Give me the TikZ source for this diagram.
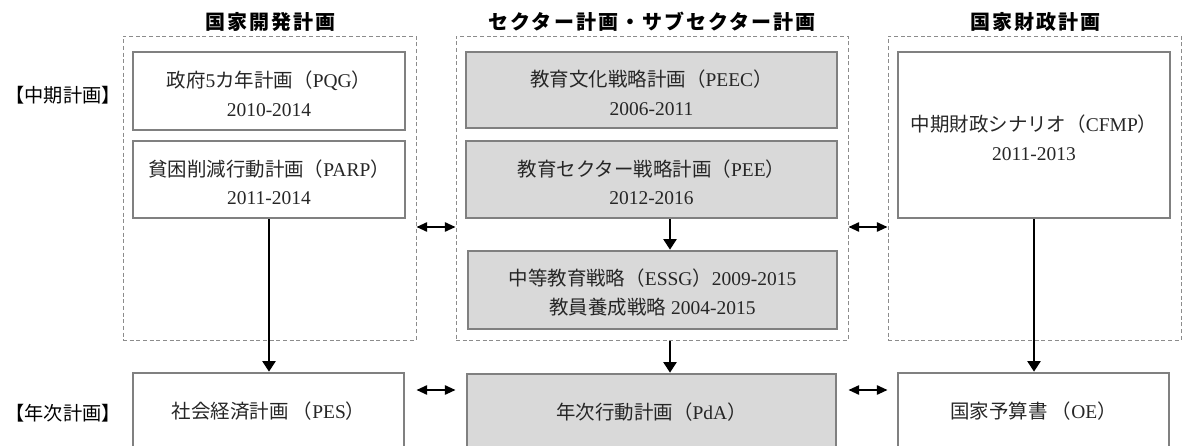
\documentclass[tikz,border=0pt]{standalone}
\usepackage{fontspec}
\setmainfont{Liberation Serif}
\newfontfamily\jp{Noto Sans CJK JP}
\newfontfamily\jphead{Noto Sans CJK JP}[LetterSpace=10]
\usetikzlibrary{arrows.meta,fit}
\newcommand{\J}[1]{{\jp #1}}
\definecolor{boxline}{HTML}{808080}
\definecolor{boxfill}{HTML}{D9D9D9}
\definecolor{grpline}{HTML}{8C8C8C}
\tikzset{
	plan/.style={draw=boxline, line width=2pt, inner sep=0pt},
	sector/.style={plan, fill=boxfill},
	txt/.style={align=center, text=black!85, font=\fontsize{14.6}{21.4}\selectfont},
	two/.style={txt, yshift=-1.9pt},
	one/.style={txt, yshift=1.3pt},
	grp/.style={draw=grpline, dash pattern=on 3pt off 2pt, line width=0.75pt, inner sep=0pt},
	head/.style={font=\jphead\bfseries\fontsize{15}{18}\selectfont},
	term/.style={font=\jp\fontsize{14.4}{17}\selectfont},
	flow/.style={-{Triangle[length=8pt,width=10pt]}, line width=1.3pt},
	link/.style={{Triangle[length=8pt,width=7pt]}-{Triangle[length=8pt,width=7pt]}, line width=1.3pt}
}
\begin{document}
\begin{tikzpicture}[x=0.75pt, y=-0.75pt]
					\useasboundingbox (0,0) rectangle (1182,446);
					\clip (0,0) rectangle (1182,446);
					% dashed frames of the three planning levels
					\node[grp, fit={(123,36) (416,340)}] (dev) {};
					\node[grp, fit={(456,36) (848,340)}] (sec) {};
					\node[grp, fit={(888,36) (1181,340)}] (fin) {};
					% headings
					\node[head] (devhead) at (270,22) {国家開発計画};
					\node[head] (sechead) at (652,22) {セクター計画・サブセクター計画};
					\node[head] (finhead) at (1035,22) {国家財政計画};
					% row labels
					\node[term] (midterm) at (63,95)  {【中期計画】};
					\node[term] (annual)  at (63,413) {【年次計画】};
					% medium term plans
					\node[plan, fit={(133,52) (405,130)}, label={[two]center:{\J{政府}5\J{カ年計画（}PQG\J{）}\\2010-2014}}] (pqg) {};
					\node[plan, fit={(133,141) (405,218)}, label={[two]center:{\J{貧困削減行動計画（}PARP\J{）}\\2011-2014}}] (parp) {};
					\node[sector, fit={(466,52) (837,128)}, label={[two]center:{\J{教育文化戦略計画（}PEEC\J{）}\\2006-2011}}] (peec) {};
					\node[sector, fit={(466,141) (837,218)}, label={[two]center:{\J{教育セクター戦略計画（}PEE\J{）}\\2012-2016}}] (pee) {};
					\node[sector, fit={(468,251) (837,329)}, label={[two]center:{\J{中等教育戦略（}ESSG\J{）}2009-2015\\\J{教員養成戦略} 2004-2015}}] (essg) {};
					\node[plan, fit={(898,52) (1170,218)}, label={[two]center:{\J{中期財政シナリオ（}CFMP\J{）}\\2011-2013}}] (cfmp) {};
					% annual plans
					\node[plan, fit={(133,373) (404,453)}, label={[one]center:{\J{社会経済計画 （}PES\J{）}}}] (pes) {};
					\node[sector, fit={(467,374) (836,453)}, label={[one]center:{\J{年次行動計画（}PdA\J{）}}}] (pda) {};
					\node[plan, fit={(898,373) (1169,453)}, label={[one]center:{\J{国家予算書 （}OE\J{）}}}] (oe) {};
					% vertical arrows
					\coordinate (ax) at (670,0);
					\draw[flow] (parp.south) -- (parp.south |- pes.north);
					\draw[flow] (pee.south -| ax) -- (essg.north -| ax);
					\draw[flow] (sec.south -| ax) -- (pda.north -| ax);
					\draw[flow] (cfmp.south) -- (cfmp.south |- oe.north);
					% links between the columns
					\coordinate (mid) at (0,227);
					\coordinate (yr) at (0,390);
					\draw[link] (dev.east |- mid) -- (sec.west |- mid);
					\draw[link] (sec.east |- mid) -- (fin.west |- mid);
					\draw[link] (dev.east |- yr) -- (sec.west |- yr);
					\draw[link] (sec.east |- yr) -- (fin.west |- yr);
				\end{tikzpicture}
\end{document}
